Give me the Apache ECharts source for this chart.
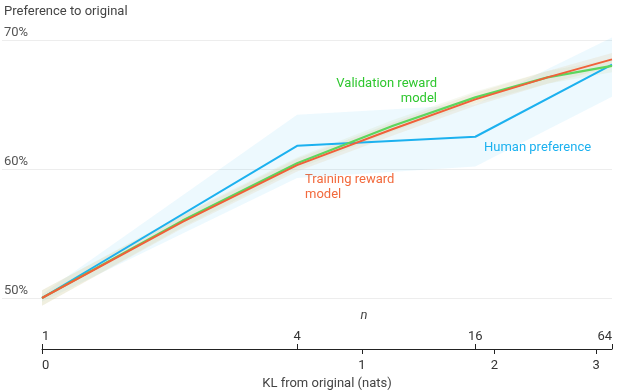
<!DOCTYPE html>
<html>
<head>
<meta charset="utf-8">
<script src="https://cdn.jsdelivr.net/npm/echarts@6/dist/echarts.min.js"></script>
<style>
html,body{margin:0;padding:0;background:#fff;}
#chart{width:625px;height:391px;}
</style>
</head>
<body>
<div id="chart"></div>
<script>
// ---- data ----
const nValues = [1, 2, 4, 8, 16, 32, 64];
const klValues = [0, 0.193, 0.636, 1.204, 1.835, 2.497, 3.175];
const trainingReward = [50, 55.9, 60.3, 63.1, 65.4, 67.1, 68.5];
const trainingLow = [49.4, 55.4, 59.8, 62.6, 64.9, 66.6, 67.9];
const trainingHigh = [50.6, 56.4, 60.8, 63.6, 65.9, 67.6, 69.0];
const validationReward = [50, 56.0, 60.45, 63.35, 65.55, 67.1, 68.0];
const validationLow = [49.4, 55.5, 60.0, 62.9, 65.1, 66.6, 67.5];
const validationHigh = [50.6, 56.5, 60.9, 63.8, 66.0, 67.6, 68.5];
const humanN = [1, 4, 16, 64];
const humanKL = [0, 0.636, 1.835, 3.175];
const humanPref = [50, 61.8, 62.5, 68.1];
const humanLow = [49.7, 59.3, 60.2, 65.6];
const humanHigh = [50.3, 64.2, 65.0, 70.2];
const klTicks = [0, 1, 2, 3];
const nTicks = [1, 4, 16, 64];
const nTickKL = [0, 0.636, 1.835, 3.175];
const yTicks = [50, 60, 70];

// sqrt scale transform for the KL axis
const sx = v => Math.sqrt(v);
const xMax = sx(klValues[klValues.length - 1]);

function pts(kl, vals) { return kl.map((k, i) => [sx(k), vals[i]]); }
function bandSeries(kl, low, high, color) {
  const upper = pts(kl, high), lower = pts(kl, low).reverse();
  return {
    type: 'custom', xAxisIndex: 0, yAxisIndex: 0, silent: true, z: 1, clip: false,
    data: upper.concat(lower),
    renderItem: function (params, api) {
      if (params.dataIndex !== 0) return null;
      const poly = upper.concat(lower).map(p => api.coord(p));
      return { type: 'polygon', shape: { points: poly }, style: { fill: color } };
    }
  };
}

const BLUE = '#1cb1ef', ORANGE = '#f0613a', GREEN = '#5dd65d';
const FONT = 'Roboto';

const chart = echarts.init(document.getElementById('chart'), null, { renderer: 'canvas' });
const option = {
  animation: false,
  textStyle: { fontFamily: FONT },
  grid: [
    { left: 42, right: 13, top: 40, bottom: 93, containLabel: false, outerBoundsMode: 'none' },
    { left: 2, right: 13, top: 40, bottom: 93, containLabel: false, outerBoundsMode: 'none' }
  ],
  xAxis: [
    { type: 'value', gridIndex: 0, min: 0, max: xMax, position: 'bottom', offset: 51,
      axisLine: { show: true, lineStyle: { color: '#222', width: 1 } },
      axisTick: { show: true, length: 5, lineStyle: { color: '#222' }, customValues: klTicks.map(sx) },
      axisLabel: { show: true, customValues: klTicks.map(sx), color: '#333', fontSize: 13, margin: 10,
        fontFamily: FONT, formatter: v => String(Math.round(v * v)), alignMinLabel: 'left' },
      splitLine: { show: false },
      name: 'KL from original (nats)', nameLocation: 'middle', nameGap: 28,
      nameTextStyle: { color: '#444', fontSize: 13, fontFamily: FONT } },
    { type: 'value', gridIndex: 0, min: 0, max: xMax, position: 'bottom', offset: 51,
      axisLine: { show: false },
      axisTick: { show: true, inside: true, length: 5, lineStyle: { color: '#222' }, customValues: nTickKL.map(sx) },
      axisLabel: { show: true, inside: true, customValues: nTickKL.map(sx), color: '#333', fontSize: 13, margin: 6,
        fontFamily: FONT, alignMinLabel: 'left', alignMaxLabel: 'right',
        formatter: v => { const i = nTickKL.findIndex(k => Math.abs(sx(k) - v) < 1e-6); return i >= 0 ? String(nTicks[i]) : ''; } },
      splitLine: { show: false } },
    { type: 'value', gridIndex: 1, min: 0, max: 1, show: false }
  ],
  yAxis: [
    { type: 'value', gridIndex: 0, min: yTicks[0], max: yTicks[yTicks.length - 1], show: false },
    { type: 'value', gridIndex: 1, min: yTicks[0], max: yTicks[yTicks.length - 1], interval: 10,
      axisLine: { show: false }, axisTick: { show: false },
      splitLine: { show: true, lineStyle: { color: '#ededed', width: 1 } },
      axisLabel: { inside: true, margin: 2, verticalAlign: 'bottom', padding: [0, 0, 1, 0],
        color: '#555', fontSize: 13, fontFamily: FONT, formatter: '{value}%' } }
  ],
  series: [
    bandSeries(humanKL, humanLow, humanHigh, 'rgba(28,177,239,0.08)'),
    bandSeries(klValues, trainingLow, trainingHigh, 'rgba(225,200,160,0.22)'),
    bandSeries(klValues, validationLow, validationHigh, 'rgba(200,215,170,0.18)'),
    { type: 'line', name: 'Human preference', xAxisIndex: 0, yAxisIndex: 0, data: pts(humanKL, humanPref),
      symbol: 'none', lineStyle: { color: BLUE, width: 2 }, z: 3, clip: false },
    { type: 'line', name: 'Validation reward model', xAxisIndex: 0, yAxisIndex: 0, data: pts(klValues, validationReward),
      symbol: 'none', lineStyle: { color: GREEN, width: 2.2 }, z: 4, clip: false },
    { type: 'line', name: 'Training reward model', xAxisIndex: 0, yAxisIndex: 0, data: pts(klValues, trainingReward),
      symbol: 'none', lineStyle: { color: ORANGE, width: 2 }, z: 5, clip: false }
  ],
  graphic: [
    { type: 'text', left: 4, top: 5, style: { text: 'Preference to original', fill: '#444', font: '13px ' + FONT } },
    { type: 'text', x: 364, y: 316, style: { text: 'n', fill: '#444', font: 'italic 13px ' + FONT, textAlign: 'center', textVerticalAlign: 'middle' } },
    { type: 'text', x: 437, y: 76, style: { text: 'Validation reward\nmodel', fill: '#2fc72f', font: '13px ' + FONT, textAlign: 'right', lineHeight: 15 } },
    { type: 'text', x: 305, y: 172, style: { text: 'Training reward\nmodel', fill: '#f26a3d', font: '13px ' + FONT, textAlign: 'left', lineHeight: 15 } },
    { type: 'text', x: 484, y: 141, style: { text: 'Human preference', fill: '#1cb1ef', font: '13px ' + FONT, textAlign: 'left' } }
  ]
};
chart.setOption(option);
</script>
</body>
</html>
